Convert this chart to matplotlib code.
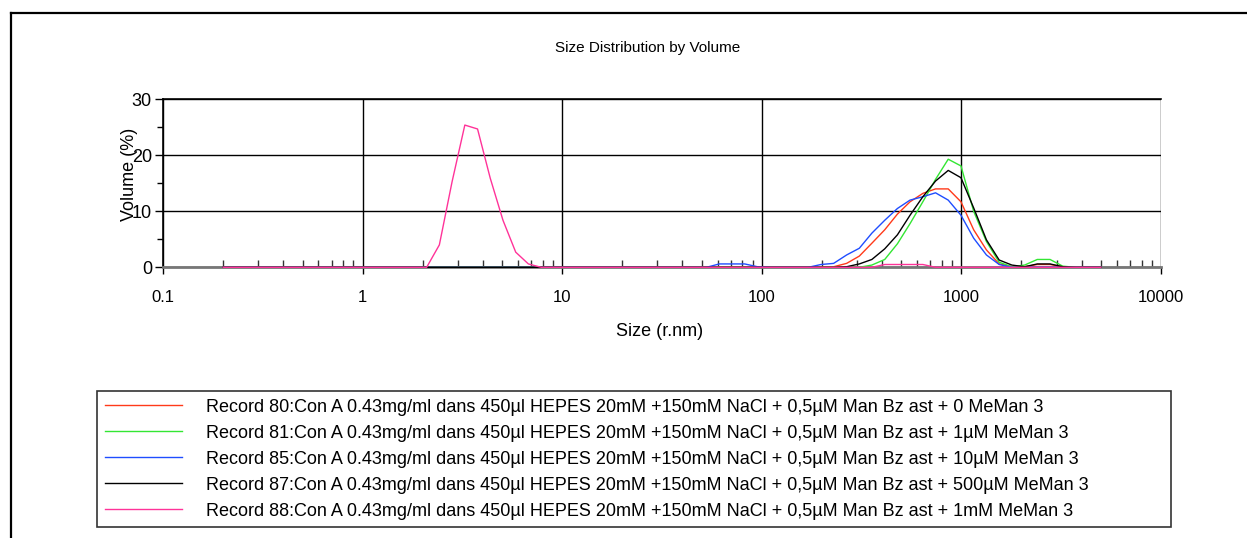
import matplotlib
matplotlib.use("Agg")
import matplotlib.pyplot as plt
from matplotlib.ticker import FixedLocator, NullFormatter, FixedFormatter
from matplotlib.lines import Line2D

plt.rcParams['font.family'] = ['Liberation Sans', 'DejaVu Sans']

# size classes (radius, nm)
size_rnm = [0.2, 0.2316, 0.268, 0.311, 0.360, 0.417, 0.482, 0.559, 0.647, 0.750,
            0.868, 1.005, 1.164, 1.348, 1.561, 1.808, 2.094, 2.424, 2.808, 3.252,
            3.766, 4.361, 5.05, 5.85, 6.77, 7.84, 9.08, 10.52, 12.18, 14.1,
            16.3, 18.9, 21.9, 25.4, 29.4, 34.0, 39.4, 45.6, 52.9, 61.2,
            70.9, 82.1, 95.1, 110, 127.5, 147.7, 171, 198, 229, 266,
            308, 356, 413, 478, 553, 641, 742, 859, 995, 1152,
            1335, 1546, 1790, 2073, 2400, 2780, 3220, 3728, 4318, 5000]

# volume (%)
rec80 = [0, 0, 0, 0, 0, 0, 0, 0, 0, 0,
         0, 0, 0, 0, 0, 0, 0, 0, 0, 0,
         0, 0, 0, 0, 0, 0, 0, 0, 0, 0,
         0, 0, 0, 0, 0, 0, 0, 0, 0, 0,
         0, 0, 0, 0, 0, 0, 0, 0, 0.1, 0.7,
         2.0, 4.3, 6.7, 9.5, 11.7, 13.2, 14.0, 14.0, 11.7, 6.7,
         3.1, 0.6, 0.1, 0.1, 0.5, 0.5, 0.1, 0, 0, 0]
rec81 = [0, 0, 0, 0, 0, 0, 0, 0, 0, 0,
         0, 0, 0, 0, 0, 0, 0, 0, 0, 0,
         0, 0, 0, 0, 0, 0, 0, 0, 0, 0,
         0, 0, 0, 0, 0, 0, 0, 0, 0, 0,
         0, 0, 0, 0, 0, 0, 0, 0, 0, 0,
         0, 0.4, 1.4, 4.2, 7.8, 11.7, 15.7, 19.3, 18.1, 10.0,
         4.6, 0.9, 0.1, 0.4, 1.4, 1.4, 0.2, 0, 0, 0]
rec85 = [0, 0, 0, 0, 0, 0, 0, 0, 0, 0,
         0, 0, 0, 0, 0, 0, 0, 0, 0, 0,
         0, 0, 0, 0, 0, 0, 0, 0, 0, 0,
         0, 0, 0, 0, 0, 0, 0, 0, 0, 0.6,
         0.6, 0.6, 0.1, 0, 0, 0, 0, 0.5, 0.7, 2.2,
         3.4, 6.1, 8.4, 10.5, 12.0, 12.6, 13.3, 12.0, 9.3, 5.2,
         2.2, 0.5, 0, 0, 0, 0, 0, 0, 0, 0]
rec87 = [0, 0, 0, 0, 0, 0, 0, 0, 0, 0,
         0, 0, 0, 0, 0, 0, 0, 0, 0, 0,
         0, 0, 0, 0, 0, 0, 0, 0, 0, 0,
         0, 0, 0, 0, 0, 0, 0, 0, 0, 0,
         0, 0, 0, 0, 0, 0, 0, 0, 0, 0.1,
         0.6, 1.4, 3.3, 5.8, 9.3, 12.6, 15.4, 17.3, 16.0, 10.6,
         4.9, 1.3, 0.4, 0.1, 0.6, 0.6, 0.1, 0, 0, 0]
rec88 = [0, 0, 0, 0, 0, 0, 0, 0, 0, 0,
         0, 0, 0, 0, 0, 0, 0, 4.0, 15.3, 25.4,
         24.7, 15.9, 8.4, 2.7, 0.6, 0, 0, 0, 0, 0,
         0, 0, 0, 0, 0, 0, 0, 0, 0, 0,
         0, 0, 0, 0, 0, 0, 0, 0, 0, 0,
         0, 0, 0.5, 0.5, 0.5, 0.5, 0, 0, 0, 0,
         0, 0, 0, 0, 0, 0, 0, 0, 0, 0]

labels = [
    "Record 80:Con A 0.43mg/ml dans 450µl HEPES 20mM +150mM NaCl + 0,5µM Man Bz ast + 0 MeMan 3",
    "Record 81:Con A 0.43mg/ml dans 450µl HEPES 20mM +150mM NaCl + 0,5µM Man Bz ast + 1µM MeMan 3",
    "Record 85:Con A 0.43mg/ml dans 450µl HEPES 20mM +150mM NaCl + 0,5µM Man Bz ast + 10µM MeMan 3",
    "Record 87:Con A 0.43mg/ml dans 450µl HEPES 20mM +150mM NaCl + 0,5µM Man Bz ast + 500µM MeMan 3",
    "Record 88:Con A 0.43mg/ml dans 450µl HEPES 20mM +150mM NaCl + 0,5µM Man Bz ast + 1mM MeMan 3",
]
colors = ['#ff3a1a', '#33e633', '#1f4dff', '#000000', '#ff3399']

x_major = [0.1, 1, 10, 100, 1000, 10000]
x_labels = ["0.1", "1", "10", "100", "1000", "10000"]
y_major = [0, 10, 20, 30]
y_minor = [5, 15, 25]

W, H = 1247, 538
fig = plt.figure(figsize=(W / 100, H / 100), dpi=100)
ax = fig.add_axes([163 / W, 1 - 267.3 / H, (1161 - 163) / W, 168 / H])

for vals, lab, col in zip([rec80, rec81, rec85, rec87, rec88], labels, colors):
    ax.plot(size_rnm, vals, color=col, lw=1, label=lab, clip_on=False, zorder=3)

ax.set_xscale('log')
ax.set_xlim(0.1, 10000)
ax.set_ylim(0, 30)

ax.xaxis.set_major_locator(FixedLocator(x_major))
ax.xaxis.set_major_formatter(FixedFormatter(x_labels))
minors = [m * 10.0 ** e for e in range(-1, 4) for m in range(2, 10)]
ax.xaxis.set_minor_locator(FixedLocator(minors))
ax.xaxis.set_minor_formatter(NullFormatter())
ax.yaxis.set_major_locator(FixedLocator(y_major))
ax.yaxis.set_minor_locator(FixedLocator(y_minor))

ax.tick_params(axis='x', which='major', direction='out', length=5, width=1,
               labelsize=12, pad=11, color='black')
ax.tick_params(axis='x', which='minor', direction='in', length=5, width=1, color='#333333')
ax.tick_params(axis='y', which='major', direction='out', length=6, width=1,
               labelsize=13, pad=2)
ax.tick_params(axis='y', which='minor', direction='out', length=4, width=1)

ax.grid(which='major', color='black', lw=1)
ax.set_axisbelow(True)
ax.spines['right'].set_visible(False)
ax.spines['top'].set_linewidth(1.2)
ax.spines['left'].set_linewidth(1.2)
ax.spines['bottom'].set_color('#777777')
ax.spines['bottom'].set_linewidth(2)

fig.text(648 / W, 1 - 48 / H, "Size Distribution by Volume", ha='center', va='center', fontsize=11)
fig.text(660 / W, 1 - 331 / H, "Size (r.nm)", ha='center', va='center', fontsize=13)
fig.text(130 / W, 1 - 174 / H, "Volume (%)", ha='center', va='center', rotation=90, fontsize=13)

leg = fig.legend(loc='upper left', bbox_to_anchor=(97 / W, 1 - 529 / H, (1171 - 97) / W, (529 - 391) / H),
                 mode='expand', ncol=1, fontsize=13, frameon=True, fancybox=False,
                 edgecolor='black', borderaxespad=0, borderpad=0.42, handlelength=4.3,
                 handletextpad=1.3, labelspacing=0.5)
leg.get_frame().set_linewidth(1.2)

fig.add_artist(Line2D([11 / W, 1], [1 - 12.7 / H, 1 - 12.7 / H], transform=fig.transFigure, color='black', lw=1.6))
fig.add_artist(Line2D([11 / W, 11 / W], [1 - 12.7 / H, 0], transform=fig.transFigure, color='black', lw=1.6))

fig.savefig("out.png", dpi=100)
